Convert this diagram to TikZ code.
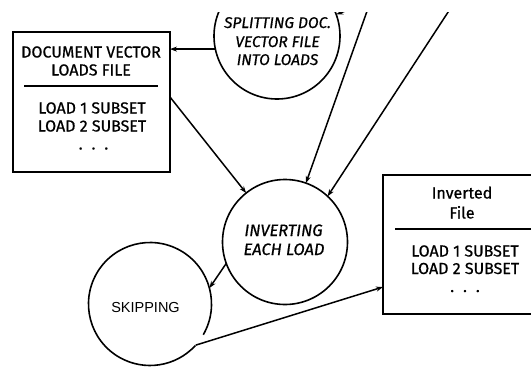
\documentclass[tikz,border=0pt]{standalone}
\usepackage{fontspec}
\setmainfont{Fira Sans}
\newfontfamily\medfont{Fira Sans}[FakeBold=0.7]
\newfontfamily\skipfont{Liberation Sans}
\usetikzlibrary{arrows.meta,calc}
\begin{document}
\begin{tikzpicture}[x=1pt,y=-1pt,
  every node/.style={inner sep=0pt,outer sep=0pt},
  filebox/.style={draw,line width=2pt,rectangle},
  bubble/.style={circle},
  drawn/.style={draw,line width=1.6pt},
  boxtxt/.style={anchor=base,font=\fontsize{16}{18}\selectfont\medfont},
  bubtxt/.style={anchor=base,font=\fontsize{16.5}{19}\selectfont\medfont\itshape},
  ruleline/.style={line width=1.8pt},
  arr/.style={line width=1.5pt,-{Stealth[length=7pt,width=5pt]}}]
\useasboundingbox (0,0) rectangle (531,367);
\begin{scope}
\clip (0,12) rectangle (531,367);
% left file box
\node[filebox,minimum width=157pt,minimum height=140pt] (dv) at (91.5,102) {};
\node[boxtxt] (dv1) at (91,57.5) {DOCUMENT VECTOR};
\node[boxtxt] (dv2) at (91,75.5) {LOADS FILE};
\draw[ruleline] (24,86) -- (158,86);
\node[boxtxt] (dv3) at (92,113.5) {LOAD 1 SUBSET};
\node[boxtxt] (dv4) at (92,131.5) {LOAD 2 SUBSET};
\node[boxtxt] (dv5) at (93.5,149.5) {.\hspace{9pt}.\hspace{9pt}.};
% inverted file box
\node[filebox,minimum width=158pt,minimum height=139pt] (inf) at (462,244.5) {};
\node[boxtxt] (if1) at (462,198.5) {Inverted};
\node[boxtxt] (if2) at (462,218.5) {File};
\draw[ruleline] (395,229) -- (535,229);
\node[boxtxt] (if3) at (465,256.5) {LOAD 1 SUBSET};
\node[boxtxt] (if4) at (465,274) {LOAD 2 SUBSET};
\node[boxtxt] (if5) at (465,292) {.\hspace{9pt}.\hspace{9pt}.};
% bubbles
\node[bubble,drawn,minimum size=126pt] (split) at (277,36) {};
\node[bubtxt,font=\fontsize{15.5}{19}\selectfont\medfont\itshape] (sp1) at (277.5,28) {SPLITTING DOC.};
\node[bubtxt,font=\fontsize{15.5}{19}\selectfont\medfont\itshape] (sp2) at (277.5,47) {VECTOR FILE};
\node[bubtxt,font=\fontsize{15.5}{19}\selectfont\medfont\itshape] (sp3) at (277.5,65) {INTO LOADS};
\node[bubble,drawn,minimum size=125pt] (inv) at (285,242) {};
\node[bubtxt] (iv1) at (283.5,236) {INVERTING};
\node[bubtxt] (iv2) at (284,255) {EACH LOAD};
\node[bubble,minimum size=123pt] (skip) at (150,304) {};
\draw[line width=1.6pt] (skip.-30) arc[start angle=-30,end angle=317.5,radius=61.5pt];
\node[anchor=base,font=\fontsize{14.5}{17}\selectfont\skipfont] (sk1) at (145.5,312) {SKIPPING};
% connectors
\coordinate (t1) at (371,0);
\coordinate (t2) at (456,0);
\coordinate (t3) at (356,7);
\draw[arr] (split.192) -- (split.192 -| dv.east);
\draw[arr] ([yshift=5pt]dv.east) -- (inv);
\draw[arr] (t1) -- (inv);
\draw[arr] (t2) -- (inv.47);
\draw[arr] (t3) -- (split.20);
\draw[arr] (inv.200) -- (skip.15);
\draw[arr] (skip.-42.5) -- ([yshift=-42.5pt]inf.west);
\end{scope}
\end{tikzpicture}
\end{document}
